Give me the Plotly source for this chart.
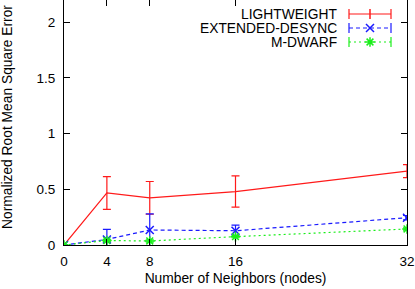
import plotly.graph_objects as go

neighbors = [0, 4, 8, 16, 32]
lightweight = [0, 0.467, 0.423, 0.480, 0.663]
lightweight_err = [0, 0.147, 0.147, 0.140, 0.058]
extended = [0, 0.050, 0.135, 0.128, 0.245]
extended_err = [0, 0.090, 0.145, 0.050, 0.020]
mdwarf = [0, 0.040, 0.036, 0.075, 0.144]
mdwarf_err = [0, 0.010, 0.010, 0.010, 0.010]
series_names = ["LIGHTWEIGHT", "EXTENDED-DESYNC", "M-DWARF"]
x_ticks = [0, 4, 8, 16, 32]
y_ticks = [0, 0.5, 1, 1.5, 2]

RED, BLUE, GREEN = "#ff1a1a", "#1a1aff", "#1aee1a"
FONT = "Liberation Sans, Arial, Helvetica, sans-serif"

styles = [
    dict(color=RED, dash="solid", symbol="line-ns", size=0, mode="lines"),
    dict(color=BLUE, dash="4px,3px", symbol="x-thin", size=8, mode="lines+markers"),
    dict(color=GREEN, dash="2px,3px", symbol="asterisk", size=8, mode="lines+markers"),
]
series = [(lightweight, lightweight_err), (extended, extended_err), (mdwarf, mdwarf_err)]

fig = go.Figure()
for (vals, errs), st, name in zip(series, styles, series_names):
    fig.add_trace(go.Scatter(
        x=neighbors, y=vals, name=name, mode=st["mode"],
        line=dict(color=st["color"], width=1.2, dash=st["dash"]),
        marker=dict(symbol=st["symbol"], size=st["size"], color=st["color"],
                    line=dict(color=st["color"], width=1.5)),
        error_y=dict(type="data", array=errs, visible=True, color=st["color"],
                     thickness=1.2, width=4),
        showlegend=False, cliponaxis=True,
    ))

# custom legend (text left of sample, gnuplot style) on an overlay pixel axis
leg_y = [14, 28, 42]
for st, name, ly in zip(styles, series_names, leg_y):
    fig.add_trace(go.Scatter(
        x=[349, 391], y=[ly, ly], mode="lines",
        line=dict(color=st["color"], width=1.2, dash=st["dash"]),
        xaxis="x2", yaxis="y2", showlegend=False, hoverinfo="skip"))
    fig.add_trace(go.Scatter(
        x=[349, 391], y=[ly, ly], mode="markers",
        marker=dict(symbol="line-ns", size=7, line=dict(color=st["color"], width=1.2)),
        xaxis="x2", yaxis="y2", showlegend=False, hoverinfo="skip"))
    fig.add_trace(go.Scatter(
        x=[370], y=[ly], mode="markers",
        marker=dict(symbol=st["symbol"] if st["size"] else "line-ns",
                    size=st["size"] if st["size"] else 7,
                    color=st["color"], line=dict(color=st["color"], width=1.5)),
        xaxis="x2", yaxis="y2", showlegend=False, hoverinfo="skip"))
    fig.add_annotation(x=339, y=ly, xref="x2", yref="y2", text=name,
                       showarrow=False, xanchor="right", yanchor="middle",
                       font=dict(family=FONT, size=13.8, color="black"))

# y-axis title placed as rotated text (paper coords; plot area is 343x245 px)
fig.add_annotation(x=(8 - 64) / 343, y=(245 - 117) / 245, xref="paper", yref="paper",
                   text="Normalized Root Mean Square Error", textangle=-90,
                   showarrow=False, xanchor="center", yanchor="middle",
                   font=dict(family=FONT, size=13.8, color="black"))

fig.update_layout(
    width=415, height=289,
    margin=dict(l=64, r=8, t=0, b=44),
    paper_bgcolor="white", plot_bgcolor="white",
    font=dict(family=FONT, size=13.5, color="black"),
    xaxis=dict(range=[0, 32], tickvals=x_ticks, ticktext=[str(v) for v in x_ticks],
               ticks="inside", ticklen=6, tickcolor="black", showline=True,
               linecolor="black", linewidth=1, mirror="ticks", showgrid=False,
               zeroline=False, ticklabelstandoff=4,
               title=dict(text="Number of Neighbors (nodes)", standoff=5,
                          font=dict(family=FONT, size=13.8, color="black"))),
    yaxis=dict(range=[0, 2.2], tickvals=y_ticks, ticktext=["0", "0.5", "1", "1.5", "2"],
               ticks="inside", ticklen=6, tickcolor="black", showline=True,
               linecolor="black", linewidth=1, mirror="ticks", showgrid=False,
               zeroline=True, zerolinecolor="#555555", zerolinewidth=2,
               ticklabelstandoff=5),
    xaxis2=dict(range=[64, 407], overlaying="x", visible=False, fixedrange=True),
    yaxis2=dict(range=[245, 0], overlaying="y", visible=False, fixedrange=True),
)

fig.write_html("out.html", config={"displayModeBar": False},
               post_script="document.body.style.margin='0';document.body.style.overflow='hidden';")
